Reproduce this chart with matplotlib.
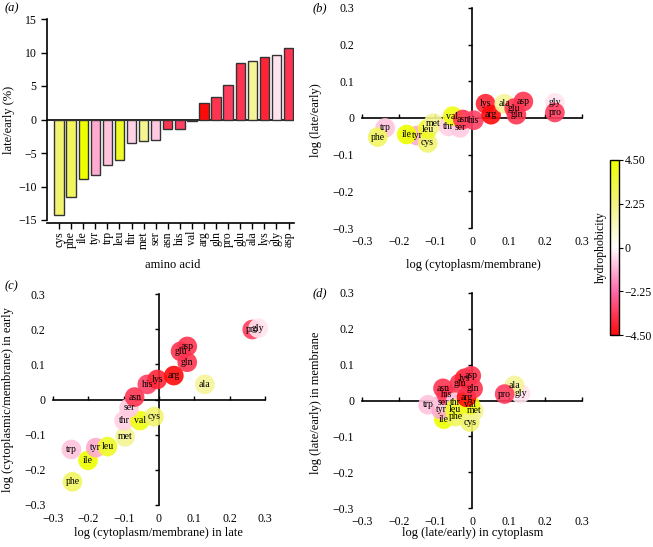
import numpy as np
import matplotlib
matplotlib.use("Agg")
import matplotlib.pyplot as plt
from matplotlib.colors import LinearSegmentedColormap, Normalize

plt.rcParams['font.family'] = ['Liberation Serif', 'DejaVu Serif']
plt.rcParams['font.size'] = 8

# hydrophobicity per amino acid
hydro = {
    'ile': 4.5, 'val': 4.2, 'leu': 3.8, 'phe': 2.8, 'cys': 2.5, 'met': 1.9,
    'ala': 1.8, 'gly': -0.4, 'thr': -0.7, 'ser': -0.8, 'trp': -0.9,
    'tyr': -1.3, 'pro': -3.3, 'his': -3.2, 'glu': -3.5, 'gln': -3.5,
    'asp': -3.5, 'asn': -3.5, 'lys': -3.9, 'arg': -4.5,
}

# panel a
bar_names = ['cys', 'phe', 'ile', 'tyr', 'trp', 'leu', 'thr', 'met', 'ser', 'asn',
             'his', 'val', 'arg', 'gln', 'pro', 'glu', 'ala', 'lys', 'gly', 'asp']
bar_vals = [-14.2, -11.5, -8.9, -8.3, -6.8, -6.0, -3.5, -3.25, -3.05, -1.45,
            -1.35, -0.15, 2.5, 3.3, 5.2, 8.45, 8.8, 9.35, 9.7, 10.65]

# panel b: log(cytoplasm/membrane) vs log(late/early)
b_names = ['trp', 'phe', 'tyr', 'ile', 'cys', 'leu', 'met', 'thr', 'ser', 'val',
           'asn', 'his', 'lys', 'arg', 'ala', 'glu', 'gln', 'asp', 'gly', 'pro']
b_x = [-0.237, -0.257, -0.150, -0.178, -0.121, -0.121, -0.105, -0.064, -0.033, -0.053,
       -0.025, 0.005, 0.037, 0.052, 0.088, 0.115, 0.121, 0.140, 0.226, 0.226]
b_y = [-0.027, -0.052, -0.048, -0.045, -0.068, -0.030, -0.014, -0.023, -0.027, 0.005,
       -0.004, -0.006, 0.039, 0.009, 0.039, 0.027, 0.009, 0.045, 0.041, 0.015]

# panel c: log(cyto/membrane) late vs early
c_names = ['phe', 'ile', 'trp', 'tyr', 'leu', 'met', 'thr', 'val', 'cys', 'ser',
           'asn', 'his', 'lys', 'arg', 'ala', 'gln', 'glu', 'asp', 'pro', 'gly']
c_x = [-0.245, -0.201, -0.248, -0.179, -0.146, -0.096, -0.099, -0.054, -0.014, -0.085,
       -0.069, -0.033, -0.005, 0.042, 0.130, 0.080, 0.061, 0.080, 0.264, 0.281]
c_y = [-0.234, -0.173, -0.142, -0.137, -0.134, -0.106, -0.060, -0.060, -0.049, -0.024,
       0.007, 0.043, 0.057, 0.068, 0.043, 0.106, 0.137, 0.151, 0.199, 0.203]

# panel d: log(late/early) cytoplasm vs membrane
d_names = ['trp', 'ile', 'tyr', 'ser', 'his', 'asn', 'thr', 'phe', 'leu', 'cys',
           'met', 'val', 'arg', 'gln', 'glu', 'lys', 'asp', 'gly', 'ala', 'pro']
d_x = [-0.120, -0.077, -0.084, -0.079, -0.070, -0.079, -0.045, -0.045, -0.047, -0.006,
       0.005, -0.005, -0.015, 0.003, -0.034, -0.020, -0.002, 0.132, 0.116, 0.089]
d_y = [-0.012, -0.052, -0.026, -0.006, 0.016, 0.034, -0.005, -0.045, -0.024, -0.060,
       -0.029, -0.012, 0.009, 0.033, 0.048, 0.062, 0.069, 0.019, 0.042, 0.018]

cmap = LinearSegmentedColormap.from_list(
    'hyd', [(0.0, '#ff0a0a'), (0.25, '#ff6aaa'), (0.5, '#ffffff'),
            (0.75, '#f2f280'), (1.0, '#eeff00')])
norm = Normalize(-4.5, 4.5)

fig = plt.figure(figsize=(6.53, 5.47), dpi=100)
W, H = 653.0, 547.0


def box(x0, x1, y0, y1):
    # pixel box -> figure fraction
    return [x0 / W, 1 - y1 / H, (x1 - x0) / W, (y1 - y0) / H]


# ---- (a) bars
ax = fig.add_axes(box(47, 294, 19, 220))
pos = np.arange(len(bar_names))
ax.bar(pos, bar_vals, width=0.78, color=[cmap(norm(hydro[n])) for n in bar_names],
       edgecolor='#333333', linewidth=1.0, zorder=3)
ax.axhline(0, color='black', lw=1.2, zorder=2)
ax.set_xlim(-1, 19.45)
ax.set_ylim(-15, 15)
ax.set_yticks([-15, -10, -5, 0, 5, 10, 15])
ax.set_yticklabels(['−15', '−10', '−5', '0', '5', '10', '15'])
ax.set_xticks(pos)
ax.set_xticklabels(bar_names)
for s in ['top', 'right']:
    ax.spines[s].set_visible(False)
ax.spines['bottom'].set_position(('outward', 2))
for s in ['left', 'bottom']:
    ax.spines[s].set_linewidth(1.2)
ax.tick_params(direction='out', length=4, width=1, labelsize=8.5)
ax.tick_params(axis='x', pad=2, labelrotation=90)


def scatter_panel(rect, names, xs, ys):
    ax = fig.add_axes(rect)
    ax.set_xlim(-0.31, 0.31)
    ax.set_ylim(-0.31, 0.31)
    for s in ax.spines.values():
        s.set_visible(False)
    ticks = [-0.3, -0.2, -0.1, 0, 0.1, 0.2, 0.3]
    ax.set_xticks(ticks)
    ax.set_yticks(ticks)
    ax.set_xticklabels(['−0.3', '−0.2', '−0.1', '0', '0.1', '0.2', '0.3'])
    ax.set_yticklabels(['−0.3', '−0.2', '−0.1', '0', '0.1', '0.2', '0.3'])
    ax.tick_params(length=0, labelsize=8.5, pad=3)
    ax.plot([-0.3, 0.3], [0, 0], color='black', lw=1.2, zorder=1)
    ax.plot([0, 0], [-0.3, 0.3], color='black', lw=1.2, zorder=1)
    ax.plot(ticks, np.zeros(len(ticks)), ls='none', marker=2, ms=3, mew=1, color='black')
    ax.plot(np.zeros(len(ticks)), ticks, ls='none', marker=0, ms=3, mew=1, color='black')
    cols = [cmap(norm(hydro[n])) for n in names]
    ax.scatter(xs, ys, s=200, c=cols, edgecolors='none', alpha=0.9, zorder=3)
    for n, x, y in zip(names, xs, ys):
        ax.text(x, y, n, ha='center', va='center', fontsize=7, zorder=4)
    return ax


scatter_panel(box(358.3, 585.7, 4.3, 231.7), b_names, b_x, b_y)
scatter_panel(box(49.5, 268.5, 290.5, 508.5), c_names, c_x, c_y)
scatter_panel(box(358.3, 585.7, 289.4, 511.6), d_names, d_x, d_y)

# ---- colour bar
cax = fig.add_axes(box(610, 619, 160, 335))
sm = plt.cm.ScalarMappable(norm=norm, cmap=cmap)
cb = fig.colorbar(sm, cax=cax, ticks=[-4.5, -2.25, 0, 2.25, 4.5])
cb.ax.set_yticklabels(['−4.50', '−2.25', '0', '2.25', '4.50'])
cb.ax.tick_params(length=3, labelsize=8.5, pad=1)
cb.outline.set_linewidth(1.0)
cb.set_label('hydrophobicity', fontsize=8.5, labelpad=2)
cb.ax.yaxis.set_label_position('left')

# ---- panel letters and axis labels
for t, x, y in [('(a)', 5, 8), ('(b)', 313, 8), ('(c)', 5, 286), ('(d)', 313, 293)]:
    fig.text(x / W, 1 - y / H, t, style='italic', fontsize=9, va='center')

lab = dict(fontsize=9, ha='center', va='center')
fig.text(173 / W, 1 - 265 / H, 'amino acid', **lab)
fig.text(473 / W, 1 - 265 / H, 'log (cytoplasm/membrane)', **lab)
fig.text(158 / W, 1 - 533 / H, 'log (cytoplasm/membrane) in late', **lab)
fig.text(473 / W, 1 - 533 / H, 'log (late/early) in cytoplasm', **lab)
fig.text(9 / W, 1 - 120 / H, 'late/early (%)', rotation=90, **lab)
fig.text(316 / W, 1 - 120 / H, 'log (late/early)', rotation=90, **lab)
fig.text(8 / W, 1 - 400 / H, 'log (cytoplasmic/membrane) in early', rotation=90, **lab)
fig.text(316 / W, 1 - 403 / H, 'log (late/early) in membrane', rotation=90, **lab)

fig.savefig('out.png', dpi=100)
